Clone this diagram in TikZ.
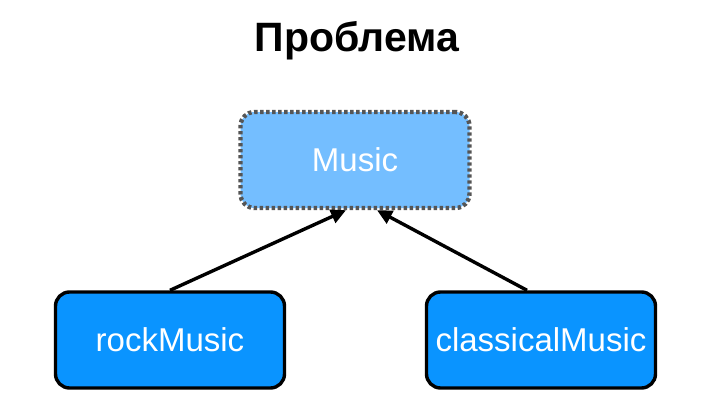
\documentclass[tikz,border=0pt]{standalone}
\usepackage{fontspec}
\setmainfont{Liberation Sans}
\usepackage{tikz}
\usetikzlibrary{arrows.meta}
\definecolor{baseblue}{HTML}{74BEFF}
\definecolor{childblue}{HTML}{0A94FF}
\definecolor{dotgray}{HTML}{555555}

\begin{document}
\begin{tikzpicture}[x=1pt, y=-1pt,
  box/.style={draw, rounded corners=14pt, align=center, text=white,
    minimum width=229pt, minimum height=96pt, font=\fontsize{33}{38}\selectfont},
  child/.style={box, fill=childblue, line width=3.4pt},
  arrow/.style={-{Triangle[length=15pt, width=14pt]}, line width=3.4pt}]
\useasboundingbox (0,0) rectangle (718,402);
\node[font=\fontsize{41}{46}\selectfont\bfseries] (title) at (357,41) {Проблема};
\node[box, fill=baseblue, draw=dotgray, line width=4.4pt,
  dash pattern=on 3.4pt off 2.6pt] (music) at (355,160) {Music};
\node[child] (rock) at (170,340) {rockMusic};
\node[child] (classical) at (541,340) {classicalMusic};
\draw[arrow] (rock.north) -- ([xshift=-9pt]music.south);
\draw[arrow] ([xshift=-14pt]classical.north) -- ([xshift=22pt]music.south);
\end{tikzpicture}
\end{document}
